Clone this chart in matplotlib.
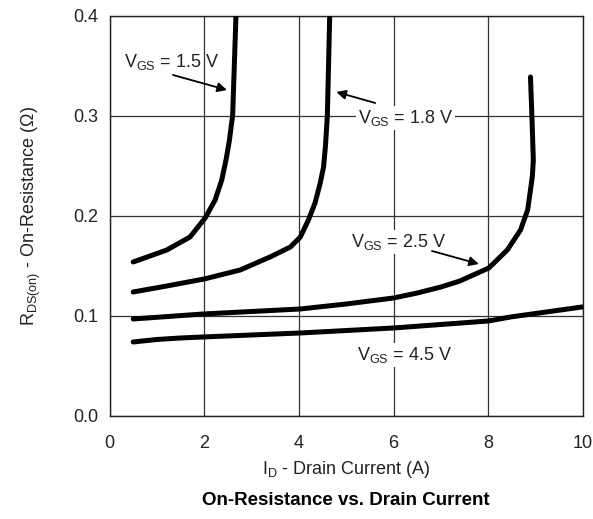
import matplotlib.pyplot as plt

plt.rcParams['font.family'] = ['Liberation Sans', 'DejaVu Sans']
plt.rcParams['mathtext.default'] = 'regular'

# Drain current (A) vs on-resistance (ohm) for each gate voltage
id_15 = [0.50, 1.21, 1.70, 2.02, 2.23, 2.37, 2.46, 2.53, 2.57, 2.60, 2.67]
r_15 = [0.154, 0.166, 0.179, 0.198, 0.216, 0.236, 0.256, 0.275, 0.290, 0.300, 0.400]

id_18 = [0.50, 1.21, 2.0, 2.76, 3.39, 3.82, 4.03, 4.20, 4.34, 4.45, 4.52, 4.56, 4.60, 4.65]
r_18 = [0.124, 0.130, 0.137, 0.146, 0.159, 0.169, 0.179, 0.196, 0.213, 0.233, 0.249, 0.270, 0.300, 0.400]

id_25 = [0.50, 1.98, 4.03, 5.0, 6.0, 6.5, 7.0, 7.4, 8.01, 8.40, 8.68, 8.83, 8.89, 8.93, 8.95, 8.92, 8.89]
r_25 = [0.097, 0.102, 0.107, 0.112, 0.118, 0.123, 0.129, 0.135, 0.148, 0.166, 0.186, 0.206, 0.226, 0.240, 0.256, 0.300, 0.339]

id_45 = [0.50, 1.0, 1.5, 1.98, 4.03, 6.0, 8.0, 8.47, 9.98]
r_45 = [0.074, 0.0765, 0.078, 0.079, 0.083, 0.088, 0.095, 0.099, 0.109]

x_ticks = [0, 2, 4, 6, 8, 10]
y_ticks = [0.0, 0.1, 0.2, 0.3, 0.4]

fig = plt.figure(figsize=(5.93, 5.19), dpi=100)
ax = fig.add_axes([0.1847, 0.1985, 0.7985, 0.7707])

for xs, ys in [(id_15, r_15), (id_18, r_18), (id_25, r_25), (id_45, r_45)]:
    ax.plot(xs, ys, color='black', lw=3.6, solid_capstyle='round',
            solid_joinstyle='round', zorder=3)

ax.set_xlim(0, 10)
ax.set_ylim(0, 0.4)
ax.set_xticks(x_ticks)
ax.set_yticks(y_ticks)
ax.set_xticklabels([str(t) for t in x_ticks])
ax.set_yticklabels(['%.1f' % t for t in y_ticks])
ax.grid(True, color='#333333', lw=0.9)
ax.tick_params(length=0, labelsize=13, colors='#222222')
ax.tick_params(axis='x', pad=14)
ax.tick_params(axis='y', pad=8)
for s in ax.spines.values():
    s.set_linewidth(1.0)
    s.set_color('#222222')

ax.set_xlabel('I$_D$ - Drain Current (A)', fontsize=13, color='#222222', labelpad=5)
ax.set_ylabel('R$_{DS(on)}$ - On-Resistance (\u03a9)', fontsize=13, color='#222222', labelpad=22)
fig.text(0.583, 0.035, 'On-Resistance vs. Drain Current', ha='center', va='center',
         fontsize=13.5, fontweight='bold')

box = dict(facecolor='white', edgecolor='none', pad=1.5)
arrow = dict(arrowstyle='-|>', color='black', lw=1.3, mutation_scale=14, shrinkA=0, shrinkB=0)

# Gate voltage labels with pointers
ax.text(1.31, 0.354, 'V$_{GS}$ = 1.5 V', fontsize=13, ha='center', va='center',
        color='#222222', zorder=4)
ax.annotate('', xy=(2.48, 0.326), xytext=(1.34, 0.341), arrowprops=arrow, zorder=4)

ax.text(6.25, 0.298, 'V$_{GS}$ = 1.8 V', fontsize=13, ha='center', va='center',
        color='#222222', bbox=box, zorder=4)
ax.annotate('', xy=(4.79, 0.324), xytext=(5.61, 0.313), arrowprops=arrow, zorder=4)

ax.text(6.10, 0.174, 'V$_{GS}$ = 2.5 V', fontsize=13, ha='center', va='center',
        color='#222222', bbox=box, zorder=4)
ax.annotate('', xy=(7.80, 0.152), xytext=(6.81, 0.165), arrowprops=arrow, zorder=4)

ax.text(6.23, 0.061, 'V$_{GS}$ = 4.5 V', fontsize=13, ha='center', va='center',
        color='#222222', bbox=box, zorder=4)

fig.savefig('out.png', dpi=100)
